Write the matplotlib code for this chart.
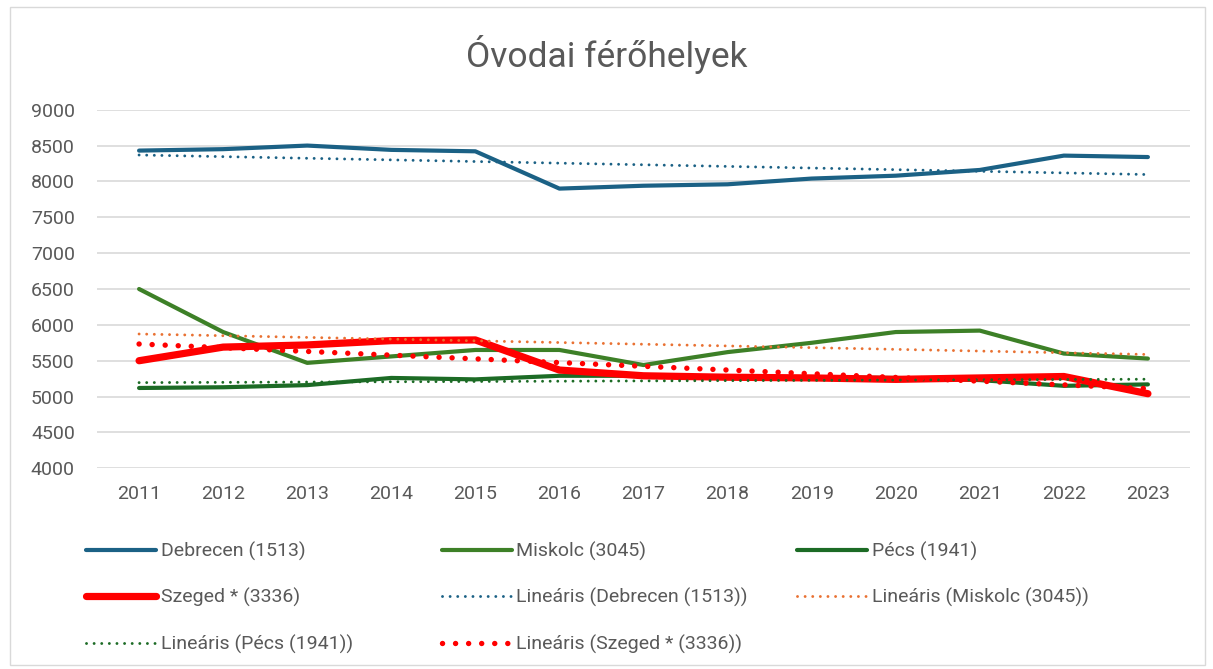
import numpy as np
import matplotlib.pyplot as plt
from matplotlib.patches import Rectangle

years = np.arange(2011, 2024)
debrecen = [8430, 8450, 8500, 8440, 8420, 7900, 7940, 7960, 8040, 8080, 8160, 8360, 8340]
miskolc = [6500, 5900, 5470, 5560, 5650, 5650, 5440, 5620, 5750, 5900, 5920, 5600, 5530]
pecs = [5120, 5130, 5160, 5260, 5240, 5290, 5290, 5270, 5270, 5260, 5230, 5150, 5170]
szeged = [5500, 5690, 5720, 5780, 5790, 5370, 5290, 5270, 5260, 5240, 5260, 5280, 5040]

names = ['Debrecen (1513)', 'Miskolc (3045)', 'Pécs (1941)', 'Szeged * (3336)']
c_deb = '#1b6185'
c_mis = '#3d8027'
c_pec = '#1c6b25'
c_sze = '#ff0000'
c_trend_mis = '#e97132'

plt.rcParams['font.family'] = ['Roboto', 'DejaVu Sans']
grey = '#595959'

fig = plt.figure(figsize=(12.13, 6.69), dpi=100)
ax = fig.add_axes([0.08, 0.30, 0.901, 0.536])


def trend(vals):
    k, b = np.polyfit(years, vals, 1)
    return k * years + b


dots = (0, (0.01, 2.6))
h_deb, = ax.plot(years, debrecen, color=c_deb, lw=3.0, solid_capstyle='round', label=names[0])
h_mis, = ax.plot(years, miskolc, color=c_mis, lw=3.0, solid_capstyle='round', label=names[1])
h_pec, = ax.plot(years, pecs, color=c_pec, lw=3.0, solid_capstyle='round', label=names[2])
h_sze, = ax.plot(years, szeged, color=c_sze, lw=5.2, solid_capstyle='round', label=names[3])

h_tdeb, = ax.plot(years, trend(debrecen), color=c_deb, lw=2.1, ls=dots,
                  dash_capstyle='round', label='Lineáris (' + names[0] + ')')
h_tmis, = ax.plot(years, trend(miskolc), color=c_trend_mis, lw=2.1, ls=dots,
                  dash_capstyle='round', label='Lineáris (' + names[1] + ')')
h_tpec, = ax.plot(years, trend(pecs), color=c_pec, lw=2.1, ls=dots,
                  dash_capstyle='round', label='Lineáris (' + names[2] + ')')
h_tsze, = ax.plot(years, trend(szeged), color=c_sze, lw=3.9, ls=(0, (0.01, 2.4)),
                  dash_capstyle='round', label='Lineáris (' + names[3] + ')')

ax.set_xlim(2010.5, 2023.5)
ax.set_ylim(4000, 9000)
ax.set_yticks(np.arange(4000, 9001, 500))
ax.set_xticks(years)
ax.grid(axis='y', color='#d9d9d9', lw=1.2)
ax.set_axisbelow(True)
for s in ax.spines.values():
    s.set_visible(False)
ax.tick_params(length=0, labelsize=14, colors=grey)
ax.tick_params(axis='x', pad=12)
ax.tick_params(axis='y', pad=16)

fig.text(0.5, 0.918, 'Óvodai férőhelyek', ha='center', va='center', fontsize=25.5, color=grey)

# excel fills the legend row by row, so build it one column at a time
columns = [[h_deb, h_sze, h_tpec], [h_mis, h_tdeb, h_tsze], [h_pec, h_tmis]]
col_x = [0.071, 0.364, 0.657]
for hs, x0 in zip(columns, col_x):
    fig.legend(handles=hs, labels=[h.get_label() for h in hs], ncol=1,
               loc='upper left', bbox_to_anchor=(x0, 0.19), frameon=False,
               fontsize=14, labelcolor=grey, handlelength=3.6, handletextpad=0.25,
               labelspacing=1.4, borderaxespad=0, borderpad=0)

fig.patches.append(Rectangle((0.008, 0.006), 0.985, 0.984, transform=fig.transFigure,
                             fill=False, edgecolor='#d9d9d9', lw=1))

plt.savefig('out.png')
